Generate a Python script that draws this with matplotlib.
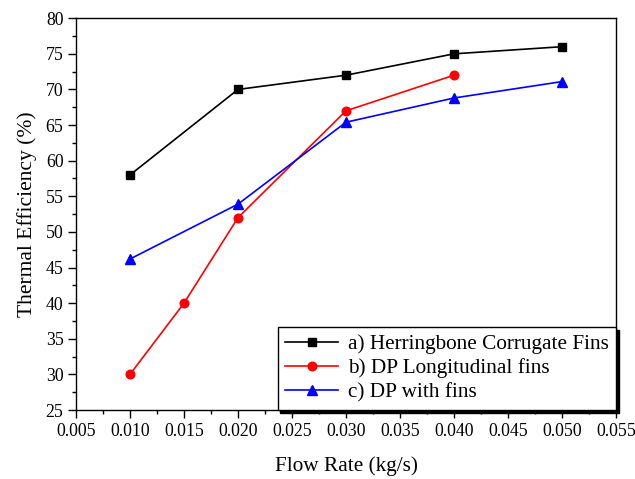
import matplotlib
matplotlib.use("Agg")
import matplotlib.pyplot as plt
from matplotlib.ticker import MultipleLocator, FormatStrFormatter

plt.rcParams['font.family'] = ['Liberation Serif', 'DejaVu Serif']

# data
x_a = [0.010, 0.020, 0.030, 0.040, 0.050]
y_a = [58.0, 70.0, 72.0, 75.0, 76.0]
x_b = [0.010, 0.015, 0.020, 0.030, 0.040]
y_b = [30.0, 40.0, 52.0, 67.0, 72.0]
x_c = [0.010, 0.020, 0.030, 0.040, 0.050]
y_c = [46.2, 53.9, 65.4, 68.8, 71.1]
labels = ['a) Herringbone Corrugate Fins', 'b) DP Longitudinal fins', 'c) DP with fins']

fig = plt.figure(figsize=(6.35, 4.79), dpi=100)
ax = fig.add_axes([0.1197, 0.144, 0.8504, 0.818])

ax.plot(x_a, y_a, color='black', marker='s', markersize=5.5, lw=1.2, label=labels[0])
ax.plot(x_b, y_b, color='red', marker='o', markersize=6.2, lw=1.2, label=labels[1])
ax.plot(x_c, y_c, color='blue', marker='^', markersize=6.8, lw=1.2, label=labels[2])

ax.set_xlim(0.005, 0.055)
ax.set_ylim(25, 80)
ax.xaxis.set_major_locator(MultipleLocator(0.005))
ax.xaxis.set_minor_locator(MultipleLocator(0.0025))
ax.xaxis.set_major_formatter(FormatStrFormatter('%.3f'))
ax.yaxis.set_major_locator(MultipleLocator(5))
ax.yaxis.set_minor_locator(MultipleLocator(2.5))
ax.tick_params(which='major', direction='out', length=5.5, width=1, labelsize=12.8)
ax.tick_params(which='minor', direction='out', length=3, width=1)
for s in ax.spines.values():
    s.set_linewidth(1)

ax.set_xlabel('Flow Rate (kg/s)', fontsize=15.3, labelpad=12)
ax.set_ylabel('Thermal Efficiency (%)', fontsize=15.5, labelpad=6)

leg = ax.legend(loc='lower right', bbox_to_anchor=(1.0, 0.0), borderaxespad=0,
                fancybox=False, edgecolor='black', framealpha=1, fontsize=15.3,
                shadow={'color': 'black', 'alpha': 1}, handlelength=2.5,
                labelspacing=0.2, borderpad=0.35, handletextpad=0.45)
leg.get_frame().set_linewidth(1)

fig.savefig('out.png', dpi=100)
